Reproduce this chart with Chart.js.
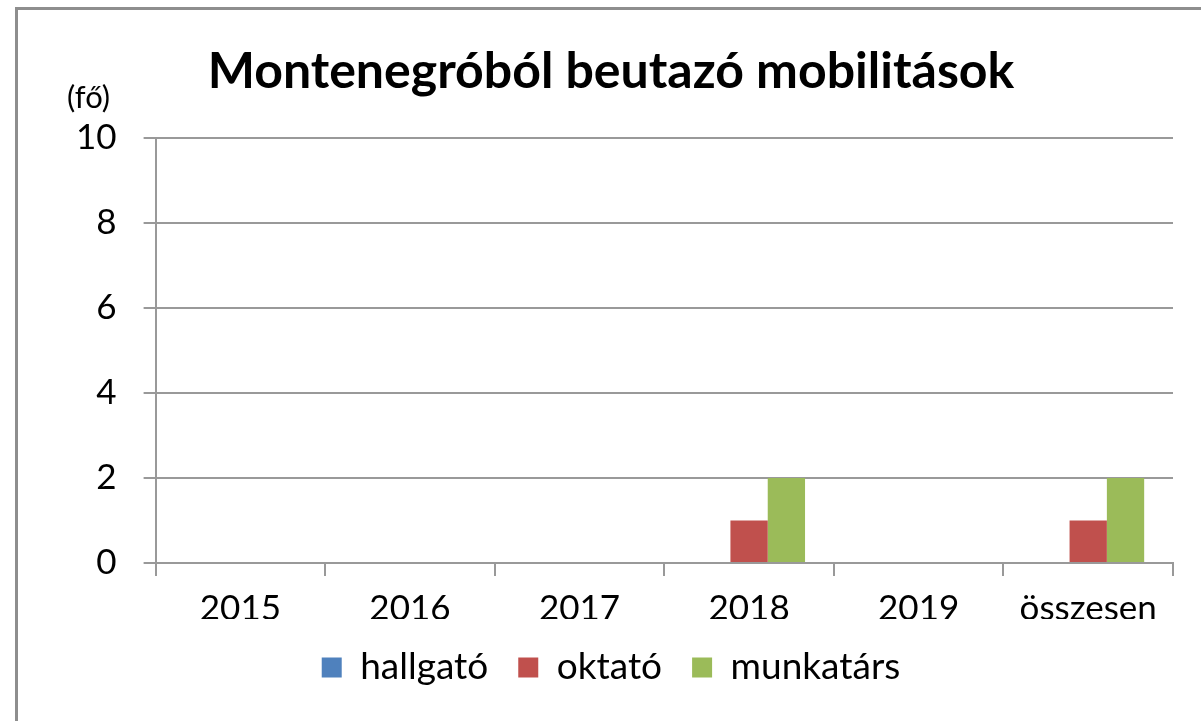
<!DOCTYPE html>
<html>
<head>
<meta charset="utf-8">
<script src="https://cdn.jsdelivr.net/npm/chart.js@4.4.1/dist/chart.umd.min.js"></script>
<style>
  html, body { margin: 0; padding: 0; background: #fff; }
  #frame {
    position: absolute; left: 15px; top: 7px; width: 1200px; height: 730px;
    border: 3px solid #8e8e8e; box-sizing: border-box;
  }
  #wrap { position: absolute; left: 0; top: 0; width: 1201px; height: 721px; }
</style>
</head>
<body>
<div id="frame"></div>
<div id="wrap"><canvas id="chart" width="1201" height="721"></canvas></div>
<script>
// Chart data
const categories = ["2015", "2016", "2017", "2018", "2019", "összesen"];
const hallgato = [0, 0, 0, 0, 0, 0];
const oktato = [0, 0, 0, 1, 0, 1];
const munkatars = [0, 0, 0, 2, 0, 2];
const yTicks = [0, 2, 4, 6, 8, 10];

const fontFamily = "Lato, 'Open Sans', sans-serif";

// "(fő)" unit label above the y axis
const unitLabel = {
  id: "unitLabel",
  afterDraw(chart) {
    const ctx = chart.ctx;
    const area = chart.chartArea;
    ctx.save();
    ctx.font = "31px " + fontFamily;
    ctx.fillStyle = "#000";
    ctx.textAlign = "center";
    ctx.textBaseline = "middle";
    ctx.fillText("(fő)", area.left - 67, area.top - 40);
    ctx.restore();
  }
};

const ctx = document.getElementById("chart").getContext("2d");
new Chart(ctx, {
  type: "bar",
  data: {
    labels: categories,
    datasets: [
      { label: "hallgató", data: hallgato, backgroundColor: "#4f81bd" },
      { label: "oktató", data: oktato, backgroundColor: "#c0504d" },
      { label: "munkatárs", data: munkatars, backgroundColor: "#9bbb59" }
    ]
  },
  options: {
    responsive: false,
    animation: false,
    layout: { padding: { left: 49, right: 28, top: 20, bottom: 25 } },
    datasets: { bar: { categoryPercentage: 0.66, barPercentage: 1 } },
    plugins: {
      title: {
        display: true,
        text: "Montenegróból beutazó mobilitások",
        color: "#000",
        font: { family: fontFamily, size: 50, weight: "bold" },
        padding: { top: 22, bottom: 36 }
      },
      legend: {
        position: "bottom",
        labels: {
          color: "#000",
          font: { family: fontFamily, size: 37 },
          boxWidth: 20,
          boxHeight: 20,
          padding: 30
        }
      },
      tooltip: { enabled: false }
    },
    scales: {
      x: {
        offset: true,
        // let the labels sit partly inside the legend's empty top padding
        afterFit(scale) { scale.height = 56; },
        grid: {
          offset: true,
          drawOnChartArea: false,
          drawTicks: true,
          tickLength: 13,
          color: "#999",
          lineWidth: 2
        },
        border: { color: "#999", width: 2 },
        ticks: {
          color: "#000",
          font: { family: fontFamily, size: 35 },
          padding: 12
        }
      },
      y: {
        min: 0,
        max: 10,
        afterBuildTicks(scale) {
          scale.ticks = yTicks.map(v => ({ value: v }));
        },
        grid: {
          color: "#999",
          lineWidth: 2,
          drawTicks: true,
          tickLength: 12
        },
        border: { color: "#999", width: 2 },
        ticks: {
          color: "#000",
          font: { family: fontFamily, size: 35 },
          padding: 27
        }
      }
    }
  },
  plugins: [unitLabel]
});
</script>
</body>
</html>
